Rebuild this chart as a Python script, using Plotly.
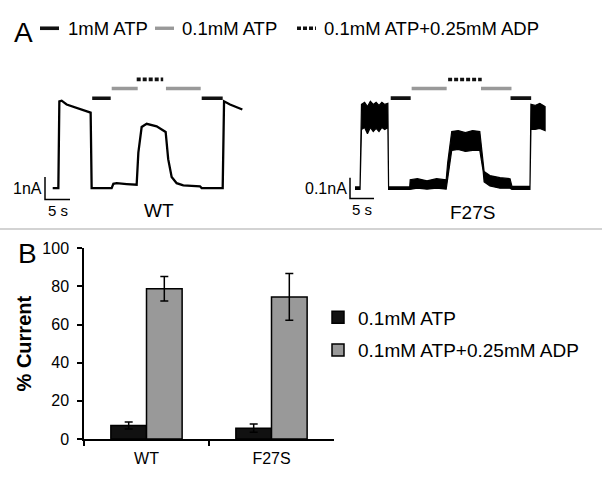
import plotly.graph_objects as go

# ---------------- data ----------------
# Panel A, WT trace: time (s) and current (nA)
wt_t = [0.0, 1.13, 1.33, 1.79, 2.79, 4.79, 6.79, 7.59, 7.79, 11.79, 12.13, 12.79, 14.8, 16.79,
        17.13, 17.79, 18.79, 20.79, 22.59, 23.1, 23.79, 24.79, 26.12, 29.46, 29.79, 34.0,
        34.27, 35.46, 37.93]
wt_i = [0.0, 0.0, 3.86, 3.89, 3.72, 3.58, 3.43, 3.36, 0.0, 0.0, 0.19, 0.22, 0.18, 0.15,
        1.58, 2.72, 2.86, 2.75, 2.5, 1.29, 0.5, 0.22, 0.12, 0.08, 0.0, 0.0,
        3.86, 3.72, 3.5]

# Panel A, F27S trace: time (s), upper and lower edge of the noisy current (nA)
f27s_t = [0.0, 1.05, 1.35, 2.0, 2.6, 3.2, 3.8, 4.4, 5.0, 5.6, 6.2, 6.85, 7.0, 11.4, 11.5,
          13.0, 15.0, 17.0, 19.0, 19.3, 20.15, 21.5, 23.0, 24.5, 26.0, 26.7, 26.9, 28.1,
          30.2, 32.3, 32.7, 36.45, 36.65, 37.5, 38.5, 39.6]
f27s_hi = [0.006, 0.006, 0.40, 0.41, 0.39, 0.415, 0.40, 0.41, 0.395, 0.41, 0.40, 0.405, 0.006,
           0.006, 0.04, 0.045, 0.035, 0.045, 0.04, 0.12, 0.27, 0.275, 0.265, 0.275, 0.27,
           0.12, 0.08, 0.06, 0.05, 0.045, 0.008, 0.008, 0.40, 0.395, 0.405, 0.39]
f27s_lo = [-0.006, -0.006, 0.28, 0.29, 0.26, 0.29, 0.27, 0.285, 0.27, 0.29, 0.28, 0.29, -0.006,
           -0.006, -0.005, 0.0, -0.005, 0.0, -0.005, 0.05, 0.18, 0.185, 0.175, 0.18, 0.18,
           0.08, 0.03, 0.01, 0.0, 0.0, -0.006, -0.006, 0.28, 0.28, 0.285, 0.275]

# Solution application periods (start, end) in s
solutions = ["1mM ATP", "0.1mM ATP", "0.1mM ATP+0.25mM ADP"]
wt_periods = {
    "1mM ATP": [(7.9, 11.6), (29.8, 34.0)],
    "0.1mM ATP": [(11.8, 17.0), (22.65, 29.6)],
    "0.1mM ATP+0.25mM ADP": [(16.8, 22.1)],
}
f27s_periods = {
    "1mM ATP": [(7.44, 11.6), (32.4, 36.7)],
    "0.1mM ATP": [(11.8, 19.1), (26.25, 32.6)],
    "0.1mM ATP+0.25mM ADP": [(19.4, 26.4)],
}

# Panel B
categories = ["WT", "F27S"]
atp_vals = [7.1, 5.7]
atp_err = [1.8, 2.2]
adp_vals = [78.8, 74.5]
adp_err = [6.4, 12.2]
y_ticks = [0, 20, 40, 60, 80, 100]

# ---------------- styles ----------------
FONT = "Liberation Sans, Arial, Helvetica, sans-serif"
W, H = 602, 484
sol_style = {
    "1mM ATP": dict(color="#111111", width=3.6, dash="solid"),
    "0.1mM ATP": dict(color="#999999", width=3.4, dash="solid"),
    "0.1mM ATP+0.25mM ADP": dict(color="#111111", width=3.6, dash="4px,2px"),
}
wt_bar_y = {"1mM ATP": 4.0, "0.1mM ATP": 4.43, "0.1mM ATP+0.25mM ADP": 4.84}
f_bar_y = {"1mM ATP": 0.43, "0.1mM ATP": 0.476, "0.1mM ATP+0.25mM ADP": 0.519}
# key (top row) positions in px: dash start, dash end, text start
key_pos = {
    "1mM ATP": (40, 59, 66),
    "0.1mM ATP": (155, 174, 180),
    "0.1mM ATP+0.25mM ADP": (297, 316, 322),
}
KEY_Y = 21


def px_x(p):
    return p / W


def px_y(p):
    return 1 - p / H


fig = go.Figure()

# WT trace
fig.add_trace(go.Scatter(x=wt_t, y=wt_i, mode="lines", line=dict(color="black", width=2.3),
                         xaxis="x2", yaxis="y2", showlegend=False, hoverinfo="skip"))

# F27S noisy trace as envelope band
fig.add_trace(go.Scatter(x=f27s_t + f27s_t[::-1], y=f27s_hi + f27s_lo[::-1], mode="lines",
                         fill="toself", fillcolor="black", line=dict(color="black", width=1.2),
                         xaxis="x3", yaxis="y3", showlegend=False, hoverinfo="skip"))

# Solution bars
for s in solutions:
    xs, ys = [], []
    for a, b in wt_periods[s]:
        xs += [a, b, None]
        ys += [wt_bar_y[s], wt_bar_y[s], None]
    fig.add_trace(go.Scatter(x=xs, y=ys, mode="lines", line=sol_style[s], name=s,
                             xaxis="x2", yaxis="y2", showlegend=False, hoverinfo="skip"))
    xs, ys = [], []
    for a, b in f27s_periods[s]:
        xs += [a, b, None]
        ys += [f_bar_y[s], f_bar_y[s], None]
    fig.add_trace(go.Scatter(x=xs, y=ys, mode="lines", line=sol_style[s], name=s,
                             xaxis="x3", yaxis="y3", showlegend=False, hoverinfo="skip"))

# Scale bars
fig.add_trace(go.Scatter(x=[-1.54, -1.54, 3.46], y=[0.5, -0.5, -0.5], mode="lines",
                         line=dict(color="black", width=1.5), xaxis="x2", yaxis="y2",
                         showlegend=False, hoverinfo="skip"))
fig.add_trace(go.Scatter(x=[-1.04, -1.04, 3.96], y=[0.05, -0.05, -0.05], mode="lines",
                         line=dict(color="black", width=1.5), xaxis="x3", yaxis="y3",
                         showlegend=False, hoverinfo="skip"))

# Panel B bars
fig.add_trace(go.Bar(x=categories, y=atp_vals, name="0.1mM ATP",
                     marker=dict(color="#111111", line=dict(color="black", width=1.5)),
                     error_y=dict(type="data", array=atp_err, color="black", thickness=1.5, width=4),
                     legendgroup="a"))
fig.add_trace(go.Bar(x=categories, y=adp_vals, name="0.1mM ATP+0.25mM ADP",
                     marker=dict(color="#999999", line=dict(color="black", width=1.5)),
                     error_y=dict(type="data", array=adp_err, color="black", thickness=1.5, width=4),
                     legendgroup="b"))

annotations = [
    dict(text="A", x=px_x(12), y=px_y(25), xref="paper", yref="paper", xanchor="left",
         yanchor="middle", showarrow=False, font=dict(size=28, color="black")),
    dict(text="B", x=px_x(16), y=px_y(254), xref="paper", yref="paper", xanchor="left",
         yanchor="middle", showarrow=False, font=dict(size=28, color="black")),
    dict(text="1nA", x=-1.54, y=0, xref="x2", yref="y2", xanchor="right", yanchor="middle",
         xshift=-1, showarrow=False, font=dict(size=16, color="black")),
    dict(text="5 s", x=0.96, y=-1.0, xref="x2", yref="y2", xanchor="center", yanchor="middle",
         showarrow=False, font=dict(size=15, color="black")),
    dict(text="WT", x=21.3, y=-1.0, xref="x2", yref="y2", xanchor="center", yanchor="middle",
         showarrow=False, font=dict(size=19, color="black")),
    dict(text="0.1nA", x=-1.04, y=0, xref="x3", yref="y3", xanchor="right", yanchor="middle",
         xshift=-1, showarrow=False, font=dict(size=16, color="black")),
    dict(text="5 s", x=1.46, y=-0.103, xref="x3", yref="y3", xanchor="center", yanchor="middle",
         showarrow=False, font=dict(size=15, color="black")),
    dict(text="F27S", x=24.5, y=-0.115, xref="x3", yref="y3", xanchor="center",
         yanchor="middle", showarrow=False, font=dict(size=19, color="black")),
]
shapes = [dict(type="line", xref="paper", yref="paper", x0=0, x1=1,
               y0=px_y(229), y1=px_y(229), line=dict(color="#c4c4c4", width=1.5))]

# Key for panel A (solution bars)
for s in solutions:
    d0, d1, tx = key_pos[s]
    st = sol_style[s]
    shapes.append(dict(type="line", xref="paper", yref="paper", x0=px_x(d0), x1=px_x(d1),
                       y0=px_y(KEY_Y), y1=px_y(KEY_Y),
                       line=dict(color=st["color"], width=st["width"], dash=st["dash"])))
    annotations.append(dict(text=s, x=px_x(tx), y=px_y(KEY_Y), xref="paper", yref="paper",
                            xanchor="left", yanchor="middle", showarrow=False,
                            font=dict(size=18.5, color="black")))

hidden = dict(visible=False, showgrid=False, zeroline=False)

fig.update_layout(
    width=W, height=H, margin=dict(l=0, r=0, t=0, b=0),
    paper_bgcolor="white", plot_bgcolor="white",
    font=dict(family=FONT, color="black", size=16),
    barmode="group", bargap=0.43, bargroupgap=0,
    annotations=annotations,
    shapes=shapes,
    xaxis=dict(domain=[px_x(84), px_x(334)], range=[-0.5, 1.5], showline=True,
               linecolor="black", linewidth=1.5, ticks="outside", tickson="boundaries",
               ticklen=5, tickwidth=1.5, tickcolor="black", showgrid=False,
               tickfont=dict(size=16), ticklabelstandoff=4, fixedrange=True),
    yaxis=dict(domain=[px_y(446.7), px_y(249)], range=[0, 100], tickvals=y_ticks,
               showline=True, linecolor="black", linewidth=1.5, ticks="outside",
               ticklen=5, tickwidth=1.5, tickcolor="black", showgrid=False, zeroline=False,
               tickfont=dict(size=16), ticklabelstandoff=5, fixedrange=True,
               title=dict(text="<b>% Current</b>", font=dict(size=20), standoff=5)),
    xaxis2=dict(domain=[0, px_x(300)], range=[-10.54, 49.46], anchor="y2", **hidden),
    yaxis2=dict(domain=[px_y(225), px_y(40)], range=[-1.644, 6.296], anchor="x2", **hidden),
    xaxis3=dict(domain=[px_x(300), 1], range=[-11.458, 51.458], anchor="y3", **hidden),
    yaxis3=dict(domain=[px_y(225), px_y(40)], range=[-0.1765, 0.676], anchor="x3", **hidden),
    legend=dict(x=px_x(318), y=px_y(301), xanchor="left", yanchor="top",
                font=dict(size=19), bgcolor="rgba(0,0,0,0)", tracegroupgap=5,
                traceorder="grouped"),
)

fig.write_html("out.html", config={"displayModeBar": False},
               post_script="document.body.style.margin='0px';")
